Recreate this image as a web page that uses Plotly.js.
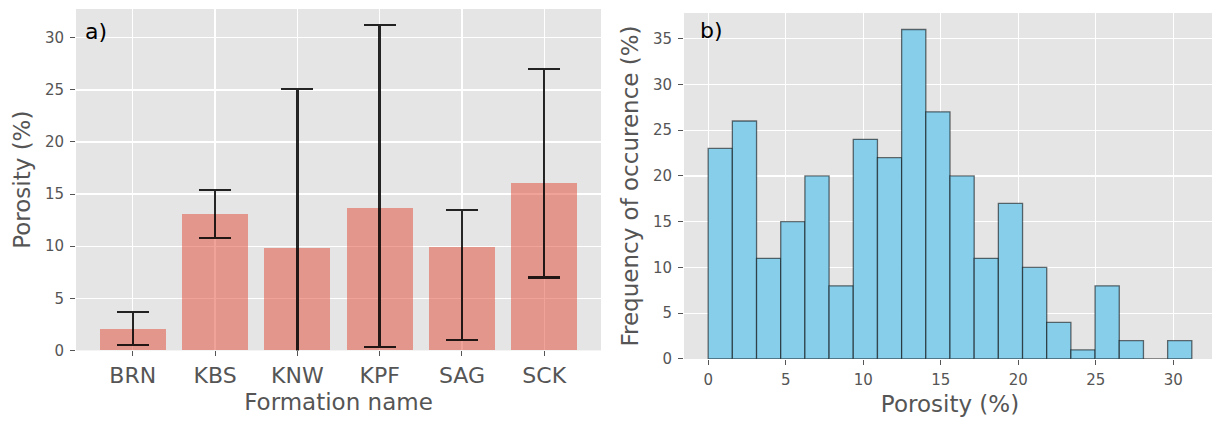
<!DOCTYPE html>
<html>
<head>
<meta charset="utf-8">
<script src="https://cdn.plot.ly/plotly-3.0.1.min.js"></script>
<style>
  html, body { margin: 0; padding: 0; background: #ffffff; overflow: hidden; }
  #chart { width: 1220px; height: 421px; }
</style>
</head>
<body>
<div id="chart"></div>
<script>
// ---- Panel a) data: porosity by formation ----
const formations = ['BRN', 'KBS', 'KNW', 'KPF', 'SAG', 'SCK'];
const meanPorosity = [2.1, 13.1, 9.8, 13.7, 9.9, 16.1];
const upperPorosity = [3.7, 15.4, 25.1, 31.2, 13.5, 27.0];
const lowerPorosity = [0.5, 10.8, -5.5, 0.3, 1.0, 7.0];

// ---- Panel b) data: histogram of porosity ----
const binStart = 0;
const binWidth = 1.56;
const frequency = [23, 26, 11, 15, 20, 8, 24, 22, 36, 27, 20, 11, 17, 10, 4, 1, 8, 2, 0, 2];

const leftTicks = [0, 5, 10, 15, 20, 25, 30];
const rightYTicks = [0, 5, 10, 15, 20, 25, 30, 35];
const rightXTicks = [0, 5, 10, 15, 20, 25, 30];

const errPlus = meanPorosity.map((m, i) => upperPorosity[i] - m);
const errMinus = meanPorosity.map((m, i) => m - lowerPorosity[i]);
const binCenters = frequency.map((_, i) => binStart + (i + 0.5) * binWidth);

const gray = '#555555';
const font = 'DejaVu Sans, Arial, sans-serif';

const traces = [
  {
    type: 'bar',
    x: formations,
    y: meanPorosity,
    xaxis: 'x', yaxis: 'y',
    width: 0.8,
    marker: { color: 'rgba(226,74,51,0.5)', line: { width: 0 } },
    error_y: {
      type: 'data', symmetric: false,
      array: errPlus, arrayminus: errMinus,
      color: 'rgba(0,0,0,0.85)', thickness: 2.4, width: 16
    },
    hoverinfo: 'x+y',
    showlegend: false
  },
  {
    type: 'bar',
    x: binCenters,
    y: frequency,
    xaxis: 'x2', yaxis: 'y2',
    width: binWidth,
    marker: { color: '#87CEEB', line: { color: 'rgba(0,0,0,0.55)', width: 1.3 } },
    showlegend: false
  }
];

const W = 1220, H = 421;
const mL = 76, mR = W - 1216, mT = 9, mB = H - 359.3;
const pw = W - mL - mR, ph = H - mT - mB;

const axisCommon = {
  showgrid: true, gridcolor: '#ffffff', gridwidth: 1.3,
  zeroline: false, showline: false,
  ticks: 'outside', ticklen: 5, tickwidth: 1, tickcolor: gray,
  automargin: false,
  tickfont: { family: font, size: 15, color: gray }
};

const layout = {
  width: W, height: H,
  margin: { l: mL, r: mR, t: mT, b: mB, pad: 0 },
  paper_bgcolor: '#ffffff',
  plot_bgcolor: '#E5E5E5',
  showlegend: false,
  bargap: 0,
  xaxis: Object.assign({}, axisCommon, {
    domain: [0, (601 - mL) / pw],
    anchor: 'y',
    type: 'category',
    range: [-0.69, 5.69],
    tickfont: { family: font, size: 22, color: gray },
    ticklabelstandoff: 0,
    title: { text: 'Formation name', font: { family: font, size: 23, color: gray }, standoff: 7 }
  }),
  yaxis: Object.assign({}, axisCommon, {
    domain: [(359.3 - 350.7) / ph, 1],
    anchor: 'x',
    range: [0, 32.76],
    tickvals: leftTicks,
    ticklabelstandoff: 3,
    title: { text: 'Porosity (%)', font: { family: font, size: 23, color: gray }, standoff: 7 }
  }),
  xaxis2: Object.assign({}, axisCommon, {
    domain: [(684 - mL) / pw, 1],
    anchor: 'y2',
    range: [-1.56, 32.76],
    tickvals: rightXTicks,
    ticklabelstandoff: 2,
    title: { text: 'Porosity (%)', font: { family: font, size: 23, color: gray }, standoff: 7 }
  }),
  yaxis2: Object.assign({}, axisCommon, {
    domain: [0, (359.3 - 13) / ph],
    anchor: 'x2',
    range: [0, 37.8],
    tickvals: rightYTicks,
    ticklabelstandoff: 3,
    title: { text: 'Frequency of occurence (%)', font: { family: font, size: 23, color: gray }, standoff: 7 }
  }),
  annotations: [
    { text: 'a)', xref: 'x domain', yref: 'y domain', x: 0.013, y: 0.935, xanchor: 'left', yanchor: 'middle',
      showarrow: false, font: { family: font, size: 22, color: '#000000' } },
    { text: 'b)', xref: 'x2 domain', yref: 'y2 domain', x: 0.026, y: 0.948, xanchor: 'left', yanchor: 'middle',
      showarrow: false, font: { family: font, size: 22, color: '#000000' } }
  ]
};

Plotly.newPlot('chart', traces, layout, { displayModeBar: false, staticPlot: true });
</script>
</body>
</html>
